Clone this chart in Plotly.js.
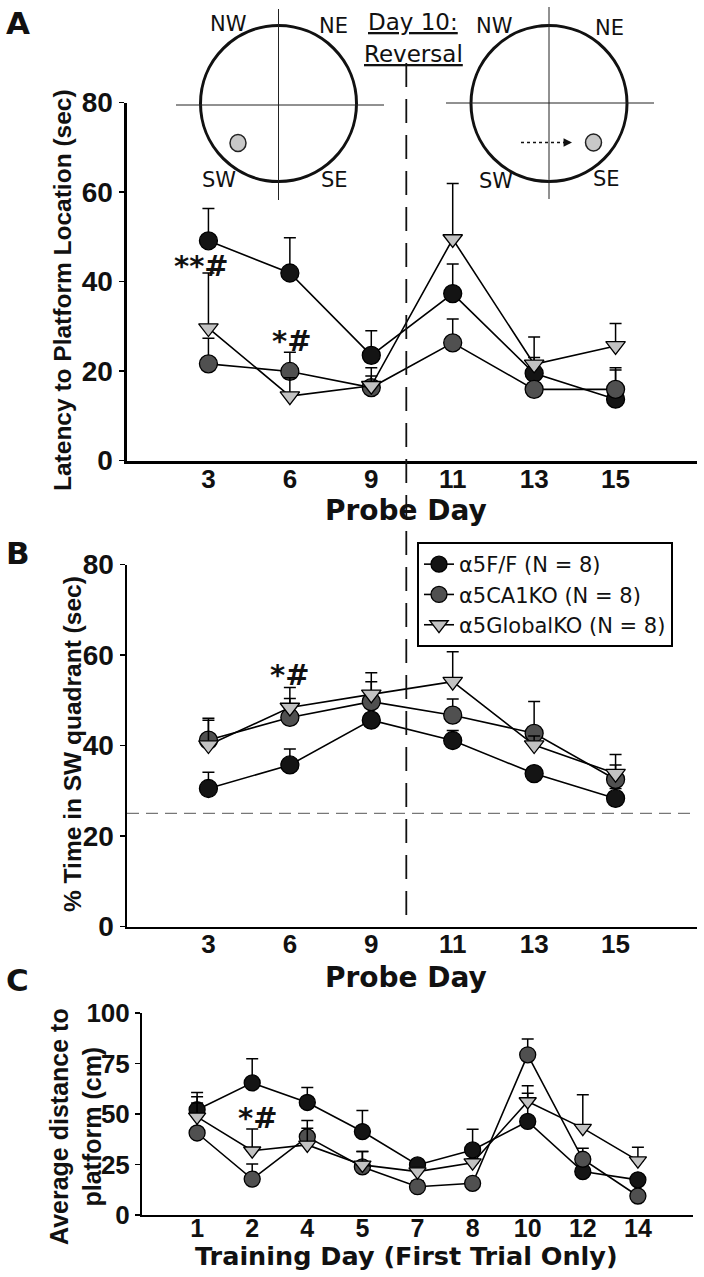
<!DOCTYPE html>
<html><head><meta charset="utf-8">
<script src="https://cdn.plot.ly/plotly-3.0.1.min.js"></script>
<style>html,body{margin:0;padding:0;background:#fff}#chart{width:704px;height:1277px}</style>
</head><body><div id="chart"></div>
<script>
// ---------- DATA ----------
const probeDays = ['3','6','9','11','13','15'];
const trainDays = ['1','2','4','5','7','8','10','12','14'];
const seriesNames = ['α5F/F (N = 8)','α5CA1KO (N = 8)','α5GlobalKO (N = 8)'];

// Panel A: latency to platform location (sec), mean and upward SEM
const latFF      = [49.1, 41.9, 23.5, 37.3, 19.5, 13.7];
const latFFErr   = [7.2, 7.9, 5.5, 6.6, 3.5, 7.0];
const latCA1     = [21.6, 19.9, 16.3, 26.3, 15.9, 15.9];
const latCA1Err  = [5.7, 4.3, 4.4, 5.3, 1.5, 4.3];
const latGlob    = [29.6, 14.4, 16.7, 49.5, 21.5, 25.6];
const latGlobErr = [12.3, 4.1, 2.2, 12.4, 6.1, 5.0];

// Panel B: % time in SW quadrant
const swFF      = [30.5, 35.7, 45.6, 41.1, 33.8, 28.3];
const swFFErr   = [3.6, 3.5, 1.5, 2.2, 1.5, 2.2];
const swCA1     = [41.2, 46.2, 49.7, 46.7, 42.7, 32.5];
const swCA1Err  = [4.8, 4.2, 4.4, 3.6, 7.0, 3.2];
const swGlob    = [40.1, 48.4, 51.3, 54.1, 40.1, 33.8];
const swGlobErr = [5.5, 4.4, 4.8, 6.6, 2.0, 4.2];
const chanceLevel = 25;

// Panel C: average distance to platform (cm), first trial
const distFF      = [52.1, 65.4, 55.7, 41.3, 24.8, 32.2, 46.3, 21.5, 17.4];
const distFFErr   = [8.5, 11.9, 7.4, 10.4, 2.0, 10.3, 14.0, 2.0, 2.0];
const distCA1     = [40.6, 17.8, 38.7, 23.8, 14.0, 15.7, 79.3, 27.6, 9.4];
const distCA1Err  = [17.9, 7.5, 8.1, 7.6, 3.0, 2.0, 7.8, 5.5, 2.0];
const distGlob    = [48.6, 31.8, 34.7, 24.8, 21.5, 25.9, 56.2, 43.0, 26.9];
const distGlobErr = [6.9, 10.8, 8.3, 6.6, 2.0, 2.0, 7.8, 16.5, 6.7];

const reversalPos = 2.43; // Day 10 reversal, between probe days 9 and 11

// ---------- STYLE ----------
const W = 704, H = 1277;
const px = x => x / W, py = y => 1 - y / H;
const TICKF = 'Liberation Sans, Arial, Helvetica, sans-serif';
const BOLDF = 'DejaVu Sans, Liberation Sans, Arial, sans-serif';
const colors = ['#141414', '#505050', '#c2c2c2'];
const symbols = ['circle', 'circle', 'triangle-down'];

function mk(xs, ys, errs, k, xa, ya, size, showleg) {
  return {
    type: 'scatter', mode: 'lines+markers',
    x: xs.map((d, i) => i), y: ys,
    xaxis: xa, yaxis: ya,
    name: seriesNames[k], showlegend: showleg, legendgroup: 'g' + k,
    line: {color: '#000', width: 1.6},
    marker: {symbol: symbols[k], size: k === 2 ? size - 1 : size, color: colors[k], line: {color: '#000', width: 1.3}},
    error_y: {type: 'data', symmetric: false, array: errs, arrayminus: errs.map(() => 0),
              color: '#000', thickness: 1.5, width: 6},
    hoverinfo: 'skip'
  };
}

const data = [
  mk(probeDays, latFF, latFFErr, 0, 'x', 'y', 18, false),
  mk(probeDays, latCA1, latCA1Err, 1, 'x', 'y', 18, false),
  mk(probeDays, latGlob, latGlobErr, 2, 'x', 'y', 18, false),
  mk(probeDays, swFF, swFFErr, 0, 'x2', 'y2', 18, true),
  mk(probeDays, swCA1, swCA1Err, 1, 'x2', 'y2', 18, true),
  mk(probeDays, swGlob, swGlobErr, 2, 'x2', 'y2', 18, true),
  mk(trainDays, distFF, distFFErr, 0, 'x3', 'y3', 16, false),
  mk(trainDays, distCA1, distCA1Err, 1, 'x3', 'y3', 16, false),
  mk(trainDays, distGlob, distGlobErr, 2, 'x3', 'y3', 16, false),
];

function xax(cats, dom, anchor, lw, fs, stand) {
  return {domain: dom, anchor: anchor, range: [-1, cats.length], tickmode: 'array',
    tickvals: cats.map((d, i) => i), ticktext: cats, showline: true, linewidth: lw, linecolor: '#000',
    ticks: '', ticklabelstandoff: stand, showgrid: false, zeroline: false, fixedrange: true,
    tickfont: {family: TICKF, size: fs, color: '#111', weight: 'bold'}};
}
function yax(dom, anchor, range, dtick, lw, fs) {
  return {domain: dom, anchor: anchor, range: range, dtick: dtick, showline: true, linewidth: lw,
    linecolor: '#000', ticks: 'outside', ticklen: 5, tickwidth: 1.5, tickcolor: '#000',
    showgrid: false, zeroline: false, fixedrange: true,
    tickfont: {family: TICKF, size: fs, color: '#111', weight: 'bold'}};
}

const layout = {
  width: W, height: H, margin: {l: 0, r: 0, t: 0, b: 0},
  paper_bgcolor: '#fff', plot_bgcolor: 'rgba(0,0,0,0)',
  xaxis:  xax(probeDays, [px(127), px(697)], 'y', 3.5, 26, -7),
  yaxis:  yax([py(460.5), py(102.5)], 'x', [0, 80], 20, 3.5, 28),
  xaxis2: xax(probeDays, [px(127), px(697)], 'y2', 2.5, 26, -7),
  yaxis2: yax([py(926.5), py(564.5)], 'x2', [0, 80], 20, 2.5, 28),
  xaxis3: xax(trainDays, [px(142), px(693)], 'y3', 2, 25, -10),
  yaxis3: yax([py(1215), py(1013)], 'x3', [0, 100], 25, 2, 26),
  showlegend: true,
  legend: {x: px(417), y: py(542), xanchor: 'left', yanchor: 'top', bgcolor: '#fff',
    bordercolor: '#000', borderwidth: 2, tracegroupgap: 0, itemwidth: 30,
    font: {family: BOLDF, size: 21, color: '#111'}},
  shapes: [], annotations: []
};

const S = layout.shapes, A = layout.annotations;
// water-maze diagrams
function maze(cx, cy, hx0, hx1, hy, vy0, vy1, plx, ply) {
  S.push({type: 'circle', xref: 'paper', yref: 'paper', x0: px(cx - 78), x1: px(cx + 78), y0: py(cy + 78), y1: py(cy - 78), line: {color: '#111', width: 3}});
  S.push({type: 'line', xref: 'paper', yref: 'paper', x0: px(hx0), x1: px(hx1), y0: py(hy), y1: py(hy), line: {color: '#222', width: 1}});
  S.push({type: 'line', xref: 'paper', yref: 'paper', x0: px(cx), x1: px(cx), y0: py(vy0), y1: py(vy1), line: {color: '#222', width: 1}});
  S.push({type: 'circle', xref: 'paper', yref: 'paper', x0: px(plx - 8), x1: px(plx + 8), y0: py(ply + 8.5), y1: py(ply - 8.5), fillcolor: '#c8c8c8', line: {color: '#222', width: 1.5}});
}
maze(278.5, 103.5, 176, 384, 105, 9, 200, 238, 143);
maze(549, 103.5, 446, 654, 103, 7, 199, 593.5, 142.5);
S.push({type: 'line', xref: 'paper', yref: 'paper', x0: px(521), x1: px(566), y0: py(142.5), y1: py(142.5), line: {color: '#111', width: 1.3, dash: 'dot'}});
A.push({xref: 'paper', yref: 'paper', x: px(572), y: py(142.5), ax: -10, ay: 0, showarrow: true, arrowhead: 2, arrowsize: 1.3, arrowwidth: 1.3, arrowcolor: '#111', text: ''});

// reversal line across panels A and B
S.push({type: 'line', xref: 'x', yref: 'paper', x0: reversalPos, x1: reversalPos, y0: py(63), y1: py(926), line: {color: '#111', width: 1.8, dash: '24px,12px'}});
// chance level in B
S.push({type: 'line', xref: 'x2 domain', yref: 'y2', x0: 0, x1: 1, y0: chanceLevel, y1: chanceLevel, line: {color: '#777', width: 1.2, dash: '12px,7px'}});

function txt(t, x, y, size, bold, opts, fam) {
  A.push(Object.assign({xref: 'paper', yref: 'paper', x: px(x), y: py(y), text: t, showarrow: false,
    xanchor: 'center', yanchor: 'middle',
    font: {family: fam || BOLDF, size: size, color: '#111', weight: bold ? 'bold' : 'normal'}}, opts || {}));
}
// compass labels
txt('NW', 228, 24, 21); txt('NE', 333, 26, 21); txt('SW', 219, 180, 21); txt('SE', 334, 180, 21);
txt('NW', 494, 26, 21); txt('NE', 609, 28, 21); txt('SW', 496, 181, 21); txt('SE', 606, 179, 21);
txt('<u>Day 10:</u>', 413, 22, 23); txt('<u>Reversal</u>', 413, 54, 23);

// panel letters
txt('A', 18, 23, 31, true); txt('B', 18, 553, 31, true); txt('C', 17, 980, 31, true);

// axis titles
txt('Latency to Platform Location (sec)', 62, 290, 24.5, true, {textangle: -90}, TICKF);
txt('Probe Day', 406, 510, 28, true);
txt('% Time in SW quadrant (sec)', 72, 744, 24.5, true, {textangle: -90}, TICKF);
txt('Probe Day', 406, 977, 28, true);
txt('Average distance to<br>platform (cm)', 75, 1127, 25, true, {textangle: -90}, TICKF);
txt('Training Day (First Trial Only)', 406, 1256, 25.5, true);

// significance marks
function sig(t, xa, ya, x, y) {
  A.push({xref: xa, yref: ya, x: x, y: y, text: t, showarrow: false, xanchor: 'center', yanchor: 'middle',
    font: {family: BOLDF, size: 29, color: '#111', weight: 'bold'}});
}
sig('**#', 'x', 'y', -0.08, 43.5);
sig('*#', 'x', 'y', 1.02, 26.6);
sig('*#', 'x2', 'y2', 1.0, 55.6);
sig('*#', 'x3', 'y3', 1.09, 48);

Plotly.newPlot('chart', data, layout, {displayModeBar: false, staticPlot: true});
</script></body></html>
